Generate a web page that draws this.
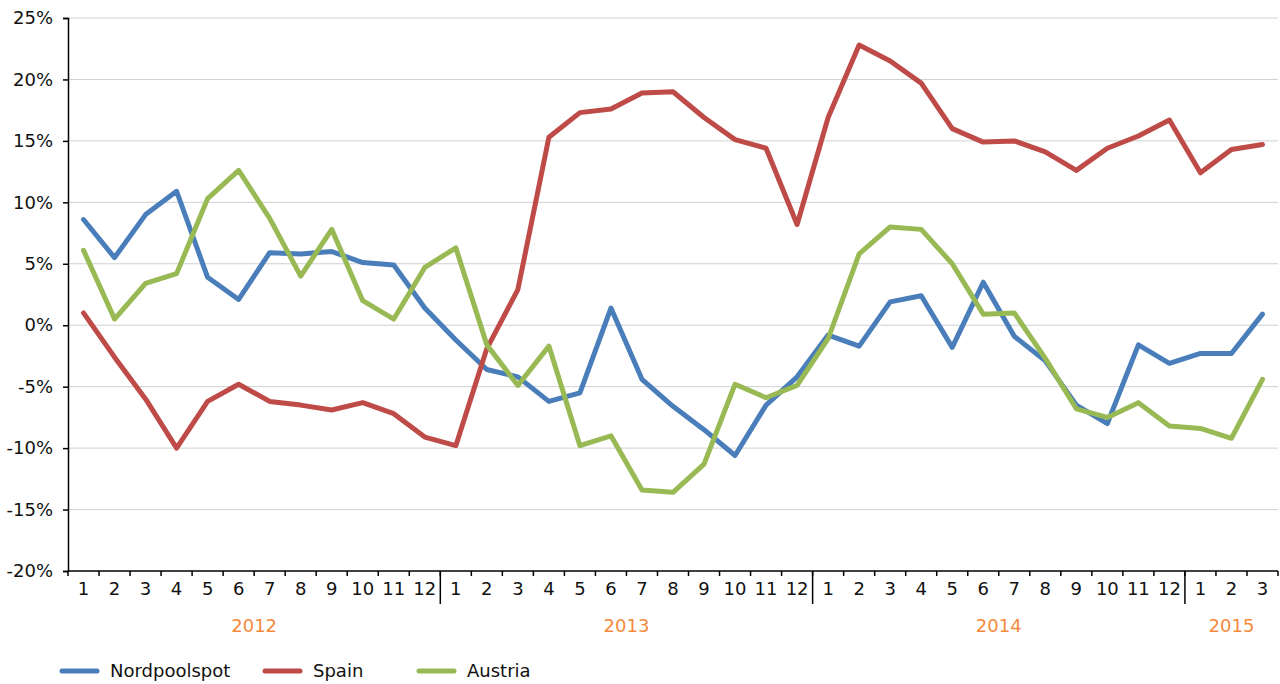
<!DOCTYPE html>
<html>
<head>
<meta charset="utf-8">
<script src="https://cdn.jsdelivr.net/npm/d3@7"></script>
<style>
  body { margin: 0; background: #fff; }
  text { font-family: 'DejaVu Sans', sans-serif; }
</style>
</head>
<body>
<div id="chart"></div>
<script>
// months on the x axis, grouped by year
const years = ['2012', '2013', '2014', '2015']
const monthsPerYear = [12, 12, 12, 3]

const yTicks = [-20, -15, -10, -5, 0, 5, 10, 15, 20, 25]

const nordpoolspot = [
  8.6, 5.5, 9.0, 10.9, 3.9, 2.1, 5.9, 5.8, 6.0, 5.1, 4.9, 1.4,
  -1.2, -3.6, -4.2, -6.2, -5.5, 1.4, -4.4, -6.6, -8.5, -10.6, -6.5, -4.2,
  -0.8, -1.7, 1.9, 2.4, -1.8, 3.5, -0.9, -2.9, -6.5, -8.0, -1.6, -3.1,
  -2.3, -2.3, 0.9
]
const spain = [
  1.0, -2.6, -6.0, -10.0, -6.2, -4.8, -6.2, -6.5, -6.9, -6.3, -7.2, -9.1,
  -9.8, -1.9, 2.9, 15.3, 17.3, 17.6, 18.9, 19.0, 16.9, 15.1, 14.4, 8.2,
  16.9, 22.8, 21.5, 19.7, 16.0, 14.9, 15.0, 14.1, 12.6, 14.4, 15.4, 16.7,
  12.4, 14.3, 14.7
]
const austria = [
  6.1, 0.5, 3.4, 4.2, 10.3, 12.6, 8.7, 4.0, 7.8, 2.0, 0.5, 4.7,
  6.3, -1.6, -4.9, -1.7, -9.8, -9.0, -13.4, -13.6, -11.3, -4.8, -5.9, -4.9,
  -1.1, 5.8, 8.0, 7.8, 5.0, 0.9, 1.0, -2.7, -6.8, -7.5, -6.3, -8.2,
  -8.4, -9.2, -4.4
]

const series = [
  { name: 'Nordpoolspot', values: nordpoolspot, color: '#4A7EBB' },
  { name: 'Spain', values: spain, color: '#BE4B48' },
  { name: 'Austria', values: austria, color: '#98B954' }
]

// build month list from the year groups
const months = []
years.forEach((yr, i) => {
  for (let m = 1; m <= monthsPerYear[i]; m++) {
    months.push({ key: yr + '-' + m, label: String(m), year: yr })
  }
})

const width = 1280
const height = 684
const margin = { top: 18, right: 2, bottom: 113, left: 68 }
const plotW = width - margin.left - margin.right
const plotH = height - margin.top - margin.bottom

const svg = d3
  .select('#chart')
  .append('svg')
  .attr('width', width)
  .attr('height', height)

const g = svg
  .append('g')
  .attr('transform', 'translate(' + margin.left + ',' + margin.top + ')')

const xScale = d3
  .scaleBand()
  .domain(months.map(d => d.key))
  .range([0, plotW])

const yScale = d3
  .scaleLinear()
  .domain([-20, 25])
  .range([plotH, 0])

// gridlines
g.selectAll('.grid')
  .data(yTicks.filter(t => t !== -20))
  .enter()
  .append('line')
  .attr('class', 'grid')
  .attr('x1', 0)
  .attr('x2', plotW)
  .attr('y1', d => yScale(d))
  .attr('y2', d => yScale(d))
  .attr('stroke', '#d0d0d0')
  .attr('stroke-width', 1)

// y axis
const yAxis = d3
  .axisLeft(yScale)
  .tickValues(yTicks)
  .tickFormat(d => d + '%')
  .tickSize(5)
  .tickPadding(10)
g.append('g')
  .attr('class', 'axis y-axis')
  .call(yAxis)
  .call(s => s.select('.domain').attr('stroke', '#000').attr('stroke-width', 1.5))
  .call(s => s.selectAll('.tick line').attr('stroke', '#000').attr('stroke-width', 1.5))
  .call(s => s.selectAll('.tick text')
    .attr('font-size', 18)
    .attr('fill', '#111')
    .attr('font-family', 'DejaVu Sans'))

// x axis: ticks sit on the band boundaries
const xAxisG = g.append('g')
  .attr('class', 'axis x-axis')
  .attr('transform', 'translate(0,' + plotH + ')')

xAxisG.append('line')
  .attr('x1', 0)
  .attr('x2', plotW)
  .attr('stroke', '#000')
  .attr('stroke-width', 1.5)

const boundaries = d3.range(months.length + 1)
xAxisG.selectAll('.xtick')
  .data(boundaries)
  .enter()
  .append('line')
  .attr('class', 'xtick')
  .attr('x1', i => i * xScale.step())
  .attr('x2', i => i * xScale.step())
  .attr('y1', 0)
  .attr('y2', 5)
  .attr('stroke', '#000')
  .attr('stroke-width', 1.5)

xAxisG.selectAll('.mlabel')
  .data(months)
  .enter()
  .append('text')
  .attr('class', 'mlabel')
  .attr('x', d => xScale(d.key) + xScale.bandwidth() / 2)
  .attr('y', 24)
  .attr('text-anchor', 'middle')
  .attr('font-size', 18)
  .attr('fill', '#111')
  .text(d => d.label)

// year separators + year labels
let start = 0
const yearGroups = years.map((yr, i) => {
  const grp = { year: yr, start: start, end: start + monthsPerYear[i] }
  start += monthsPerYear[i]
  return grp
})

xAxisG.selectAll('.ysep')
  .data(yearGroups.slice(1))
  .enter()
  .append('line')
  .attr('class', 'ysep')
  .attr('x1', d => d.start * xScale.step())
  .attr('x2', d => d.start * xScale.step())
  .attr('y1', 0)
  .attr('y2', 33)
  .attr('stroke', '#000')
  .attr('stroke-width', 1.5)

xAxisG.selectAll('.ylabel')
  .data(yearGroups)
  .enter()
  .append('text')
  .attr('class', 'ylabel')
  .attr('x', d => (d.start + d.end) / 2 * xScale.step())
  .attr('y', 61)
  .attr('text-anchor', 'middle')
  .attr('font-size', 18)
  .attr('fill', '#F58A3C')
  .text(d => d.year)

// lines
const line = d3
  .line()
  .x((d, i) => xScale(months[i].key) + xScale.bandwidth() / 2)
  .y(d => yScale(d))

g.selectAll('.series')
  .data(series)
  .enter()
  .append('path')
  .attr('class', 'series')
  .attr('d', d => line(d.values))
  .attr('fill', 'none')
  .attr('stroke', d => d.color)
  .attr('stroke-width', 5)
  .attr('stroke-linejoin', 'round')
  .attr('stroke-linecap', 'round')

// legend
const legendX = [62, 265, 419]
const legend = svg.selectAll('.legend')
  .data(series)
  .enter()
  .append('g')
  .attr('class', 'legend')
  .attr('transform', (d, i) => 'translate(' + legendX[i] + ',671)')

legend.append('line')
  .attr('x1', 0)
  .attr('x2', 35)
  .attr('stroke', d => d.color)
  .attr('stroke-width', 5)
  .attr('stroke-linecap', 'round')

legend.append('text')
  .attr('x', 48)
  .attr('y', 6)
  .attr('font-size', 18)
  .attr('fill', '#111')
  .text(d => d.name)
</script>
</body>
</html>
